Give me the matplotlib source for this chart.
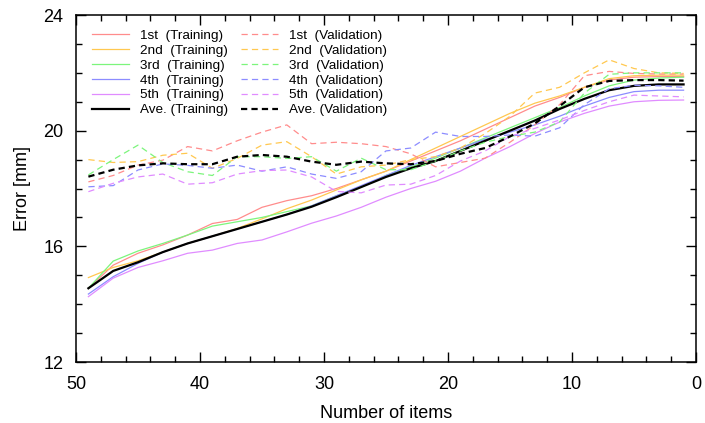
import matplotlib
matplotlib.use("Agg")
import matplotlib.pyplot as plt
from matplotlib.ticker import MultipleLocator
import numpy as np

plt.rcParams['font.family'] = ['Liberation Sans', 'DejaVu Sans']
plt.rcParams['lines.scale_dashes'] = False

# Number of items (x axis runs from 50 down to 0)
items = list(range(49, 0, -2))

# Training error per fold [mm]
train_1st = [14.55, 15.35, 15.76, 16.05, 16.39, 16.79, 16.93, 17.35, 17.58, 17.75, 18.0, 18.3, 18.6,
             18.95, 19.3, 19.65, 20.05, 20.45, 20.85, 21.15, 21.5, 21.75, 21.85, 21.87, 21.87]
train_2nd = [14.92, 15.27, 15.5, 15.8, 16.1, 16.35, 16.62, 16.95, 17.3, 17.6, 17.95, 18.3, 18.6,
             19.0, 19.4, 19.8, 20.2, 20.6, 20.95, 21.2, 21.5, 21.8, 21.9, 21.92, 21.92]
train_3rd = [14.55, 15.49, 15.84, 16.1, 16.39, 16.7, 16.85, 17.0, 17.2, 17.4, 17.75, 18.05, 18.45,
             18.75, 19.05, 19.4, 19.75, 20.1, 20.45, 20.8, 21.2, 21.55, 21.75, 21.82, 21.85]
train_4th = [14.35, 14.95, 15.41, 15.8, 16.1, 16.35, 16.6, 16.85, 17.1, 17.4, 17.75, 18.1, 18.45,
             18.8, 19.1, 19.4, 19.7, 19.95, 20.2, 20.5, 20.85, 21.15, 21.35, 21.4, 21.4]
train_5th = [14.26, 14.9, 15.27, 15.5, 15.76, 15.87, 16.1, 16.22, 16.5, 16.8, 17.05, 17.35, 17.7,
             18.0, 18.25, 18.6, 19.05, 19.45, 19.9, 20.3, 20.6, 20.85, 21.0, 21.05, 21.06]
train_ave = [14.55, 15.15, 15.45, 15.8, 16.1, 16.35, 16.6, 16.85, 17.1, 17.37, 17.7, 18.05, 18.4,
             18.7, 18.95, 19.3, 19.65, 20.0, 20.35, 20.75, 21.1, 21.4, 21.55, 21.6, 21.6]

# Validation error per fold [mm]
val_1st = [18.23, 18.45, 18.81, 18.98, 19.45, 19.3, 19.65, 19.95, 20.2, 19.55, 19.6, 19.55, 19.45,
           19.2, 18.75, 18.9, 19.05, 19.6, 20.2, 20.9, 21.9, 22.05, 21.98, 21.96, 21.96]
val_2nd = [19.0, 18.9, 18.93, 19.15, 19.22, 18.7, 19.04, 19.5, 19.62, 19.1, 18.5, 18.75, 18.81,
           19.0, 19.1, 19.4, 19.9, 20.5, 21.3, 21.5, 22.0, 22.45, 22.15, 22.0, 21.98]
val_3rd = [18.47, 19.0, 19.5, 18.9, 18.58, 18.45, 19.1, 19.1, 19.04, 19.1, 18.6, 19.05, 18.65,
           18.65, 18.95, 19.3, 19.6, 19.8, 19.95, 20.3, 21.3, 21.95, 22.0, 22.0, 22.0]
val_4th = [18.06, 18.1, 18.64, 18.85, 18.8, 18.7, 18.81, 18.6, 18.75, 18.5, 18.35, 18.58, 19.3,
           19.4, 19.95, 19.8, 19.8, 19.85, 19.81, 20.1, 20.9, 21.45, 21.57, 21.55, 21.5]
val_5th = [17.89, 18.18, 18.4, 18.5, 18.15, 18.2, 18.5, 18.62, 18.64, 18.4, 17.9, 17.85, 18.12,
           18.15, 18.45, 18.95, 19.3, 19.8, 20.08, 20.37, 20.7, 21.0, 21.23, 21.2, 21.17]
val_ave = [18.41, 18.65, 18.8, 18.87, 18.84, 18.84, 19.1, 19.16, 19.1, 18.93, 18.82, 18.93, 18.87,
           18.84, 18.95, 19.2, 19.4, 19.8, 20.25, 20.85, 21.5, 21.72, 21.75, 21.75, 21.73]

fold_names = ['1st', '2nd', '3rd', '4th', '5th']
fold_colors = ['#ff8c8c', '#ffc850', '#7cf57c', '#8c8cff', '#e08cff']
train_folds = [train_1st, train_2nd, train_3rd, train_4th, train_5th]
val_folds = [val_1st, val_2nd, val_3rd, val_4th, val_5th]

fig = plt.figure(figsize=(7.05, 4.23), dpi=100)
ax = fig.add_axes([0.1078, 0.1442, 0.8794, 0.8203])

dash_style = (0, (4.5, 3.0))

# training lines first (left legend column), then validation
for name, col, ys in zip(fold_names, fold_colors, train_folds):
    ax.plot(items, ys, color=col, lw=0.9, label=f'{name}  (Training)')
ax.plot(items, train_ave, color='black', lw=1.6, label='Ave. (Training)')

for name, col, ys in zip(fold_names, fold_colors, val_folds):
    ax.plot(items, ys, color=col, lw=0.9, linestyle=dash_style, label=f'{name}  (Validation)')
ax.plot(items, val_ave, color='black', lw=1.6, linestyle=dash_style, label='Ave. (Validation)')

ax.set_xlim(50, 0)
ax.set_ylim(12, 24)
ax.xaxis.set_major_locator(MultipleLocator(10))
ax.xaxis.set_minor_locator(MultipleLocator(2))
ax.yaxis.set_major_locator(MultipleLocator(4))
ax.yaxis.set_minor_locator(MultipleLocator(1))
ax.tick_params(which='both', direction='in', top=True, right=True, labelsize=13, width=1.0)
ax.tick_params(which='major', length=7)
ax.tick_params(which='minor', length=4)
ax.tick_params(axis='x', pad=10)
ax.tick_params(axis='y', pad=9)
for sp in ax.spines.values():
    sp.set_linewidth(1.1)

ax.set_xlabel('Number of items', fontsize=13, labelpad=9)
ax.set_ylabel('Error [mm]', fontsize=13, labelpad=9)

ax.legend(loc='upper left', bbox_to_anchor=(0.026, 0.958), ncol=2, frameon=False,
          fontsize=9.7, handlelength=2.75, handletextpad=0.8, columnspacing=0.95,
          labelspacing=0.18, borderpad=0.0, borderaxespad=0.0)

fig.savefig('out.png', dpi=100)
